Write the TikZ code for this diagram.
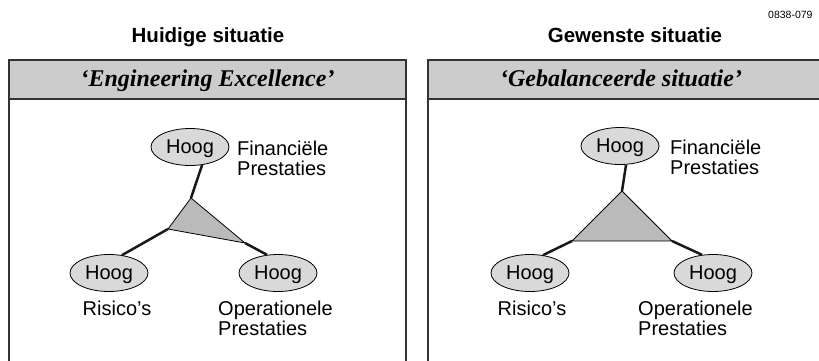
\documentclass[tikz,border=0pt]{standalone}
\usepackage{fontspec}
\setmainfont{Liberation Sans}
\newfontfamily\headserif{Liberation Serif}
\usetikzlibrary{shapes.geometric}

\newcommand{\sq}{\char"0027\relax}

\tikzset{
  panel/.style={draw=black!80, line width=1.6pt},
  headbar/.style={panel, fill=black!20},
  hoog/.style={ellipse, draw=black, line width=0.8pt, fill=black!15,
    minimum width=78pt, minimum height=37pt, inner sep=0pt, text depth=0pt,
    font=\fontsize{20}{20}\selectfont},
  label/.style={font=\fontsize{20}{20}\selectfont, inner sep=0pt, align=left},
  coltitle/.style={font=\fontsize{20.5}{22}\selectfont\bfseries, inner sep=0pt, anchor=base},
  headtitle/.style={font=\fontsize{24}{26}\selectfont\headserif\bfseries\itshape, inner sep=0pt, anchor=base},
  spoke/.style={line width=2.5pt, draw=black!90},
  tri/.style={draw=black, line width=0.8pt, fill=black!27, line join=round}
}

\begin{document}
\begin{tikzpicture}[x=1pt, y=-1pt]
  \useasboundingbox (0,0) rectangle (819,360);
  \clip (0,0) rectangle (819,360);

  % drawing number
  \node[font=\fontsize{10.5}{11}\selectfont, inner sep=0pt, anchor=base west] (num) at (768,18) {0838-079};

  % column titles
  \node[coltitle] (ttl1) at (208,42) {Huidige situatie};
  \node[coltitle] (ttl2) at (635,42) {Gewenste situatie};

  % panels with header bars
  \draw[panel, fill=white] (9,60) rectangle (406,380);
  \draw[headbar] (9,60) rectangle (406,99);
  \draw[panel, fill=white] (428,60) rectangle (840,380);
  \draw[headbar] (428,60) rectangle (840,99);

  \node[headtitle] (hd1) at (207.5,86) {‘Engineering Excellence’};
  \node[headtitle] (hd2) at (621,86) {‘Gebalanceerde situatie’};

  % ---- left panel: unbalanced triangle
  \coordinate (a1) at (191,198);
  \coordinate (b1) at (168,229);
  \coordinate (c1) at (245,243);
  \node[hoog] (t1) at (190,147) {Hoog};
  \node[hoog] (l1) at (109,273) {Hoog};
  \node[hoog] (r1) at (278,273) {Hoog};
  \draw[tri] (a1) -- (b1) -- (c1) -- cycle;
  \draw[spoke] (a1) -- (t1.-56);
  \draw[spoke] (b1) -- (l1.54);
  \draw[spoke] (c1) -- (r1.121);
  \node[label, anchor=west] (f1) at (237,158) {Financiële\\Prestaties};
  \node[label, anchor=base] (k1) at (117,315) {Risico\sq s};
  \node[label, anchor=west] (o1) at (218,318) {Operationele\\Prestaties};

  % ---- right panel: balanced triangle
  \coordinate (a2) at (622,191);
  \coordinate (b2) at (572,241);
  \coordinate (c2) at (672,241);
  \node[hoog] (t2) at (620,146) {Hoog};
  \node[hoog] (l2) at (530,273) {Hoog};
  \node[hoog] (r2) at (713,273) {Hoog};
  \draw[tri] (a2) -- (b2) -- (c2) -- cycle;
  \draw[spoke] (a2) -- (t2.-72);
  \draw[spoke] (b2) -- (l2.54);
  \draw[spoke] (c2) -- (r2.121);
  \node[label, anchor=west] (f2) at (670,157) {Financiële\\Prestaties};
  \node[label, anchor=base] (k2) at (532,315) {Risico\sq s};
  \node[label, anchor=west] (o2) at (638,318) {Operationele\\Prestaties};
\end{tikzpicture}
\end{document}
